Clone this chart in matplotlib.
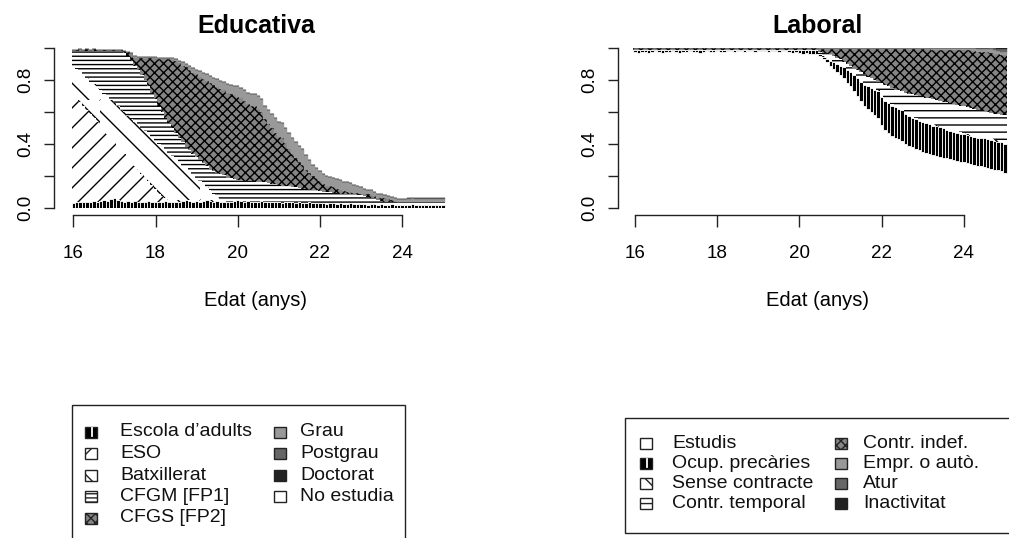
import numpy as np
import matplotlib
matplotlib.use("Agg")
import matplotlib.pyplot as plt
from matplotlib.patches import Rectangle
from matplotlib.path import Path
from matplotlib.backend_bases import GraphicsContextBase

plt.rcParams['font.family'] = ['Liberation Sans', 'DejaVu Sans']
plt.rcParams['hatch.linewidth'] = 1.0

# hatch densities (lines per inch multiplier) chosen to mimic R's density= hatching
HATCH_DENSITY = {'/': 10, '\\': 9, '-': 24, '--': 7.5, 'xx': 11}


def _get_hatch_path(self, density=6.0):
    hatch = self.get_hatch()
    if hatch is None:
        return None
    return Path.hatch(hatch, HATCH_DENSITY.get(hatch, density))


GraphicsContextBase.get_hatch_path = _get_hatch_path

# ---------------- DATA ----------------
# age in months: 16y0m ... 25y0m (monthly)
edat_mesos = np.arange(16 * 12, 25 * 12 + 1)
xticks = [16, 18, 20, 22, 24]

# Educativa (state distribution, shares per month)
escola = [0.030,0.035,0.035,0.040,0.035,0.040,0.045,0.040,0.045,0.050,0.045,0.055,
          0.060,0.050,0.045,0.040,0.045,0.040,0.045,0.040,0.035,0.040,0.045,0.040,
          0.040,0.035,0.040,0.045,0.040,0.035,0.040,0.040,0.045,0.050,0.045,0.040,
          0.045,0.040,0.045,0.050,0.045,0.040,0.045,0.040,0.040,0.035,0.040,0.045,
          0.050,0.045,0.040,0.045,0.040,0.035,0.040,0.045,0.040,0.035,0.035,0.040,
          0.035,0.030,0.035,0.040,0.035,0.030,0.035,0.030,0.030,0.035,0.030,0.030,
          0.030,0.030,0.025,0.030,0.030,0.025,0.030,0.025,0.025,0.030,0.025,0.025,
          0.025,0.025,0.020,0.025,0.025,0.020,0.025,0.020,0.020,0.025,0.020,0.020,
          0.020,0.020,0.020,0.025,0.020,0.020,0.020,0.020,0.020,0.020,0.020,0.020,0.020]
eso = [0.68,0.65,0.63,0.60,0.58,0.55,0.52,0.50,0.47,0.44,0.42,0.39,0.36,0.34,0.32,
       0.30,0.27,0.25,0.22,0.20,0.18,0.155,0.125,0.105,0.08,0.055,0.035,0.02,0.01,0.005] + [0.0] * 79
batx = [0.18,0.185,0.186,0.19,0.197,0.20,0.208,0.21,0.22,0.225,0.23,0.23,0.236,0.245,0.25,
        0.257,0.263,0.268,0.274,0.28,0.285,0.285,0.29,0.297,0.30,0.31,0.31,0.30,0.294,0.285,
        0.265,0.245,0.22,0.197,0.18,0.167,0.143,0.128,0.104,0.08,0.065,0.05,0.026,0.012,0.005] + [0.0] * 64
cfgm = [0.09,0.11,0.13,0.15,0.17,0.19,0.21,0.23,0.245,0.265,0.285,0.305,0.324,0.345,0.365,
        0.373,0.372,0.362,0.351,0.34,0.33,0.32,0.30,0.278,0.26,0.24,0.215,0.195,0.186,0.175,
        0.165,0.155,0.145,0.133,0.135,0.133,0.132,0.132,0.131,0.13,0.135,0.14,0.149,0.158,0.16,
        0.155,0.145,0.135,0.125,0.13,0.13,0.125,0.13,0.13,0.125,0.115,0.12,0.12,0.115,0.11,
        0.11,0.11,0.105,0.095,0.095,0.10,0.09,0.09,0.09,0.08,0.08,0.08,0.075,0.07,0.075,
        0.07,0.065,0.07,0.06,0.065,0.065,0.055,0.06,0.055,0.055,0.05,0.05,0.04,0.035,0.03,0.02] + [0.015] * 18
cfgs = [0.01] * 15 + [
        0.01,0.025,0.05,0.05,0.075,0.105,0.135,0.175,0.215,0.255,0.29,0.33,0.37,0.40,0.425,
        0.45,0.465,0.48,0.50,0.505,0.505,0.515,0.52,0.525,0.535,0.535,0.54,0.535,0.535,0.53,
        0.53,0.525,0.525,0.52,0.51,0.50,0.48,0.465,0.47,0.455,0.44,0.395,0.37,0.35,0.32,
        0.30,0.295,0.265,0.235,0.21,0.18,0.165,0.15,0.12,0.105,0.09,0.08,0.065,0.05,0.04,
        0.035,0.035,0.025,0.025,0.015,0.01,0.015,0.01,0.015,0.01,0.01,0.015,0.015,0.015,0.015,
        0.02,0.025,0.02,0.01,0.01] + [0.0] * 14
grau = [0.0] * 18 + [0.01] * 13 + [0.015,0.02,0.02,0.025,0.03, 0.03,0.035,0.04,0.04,0.045,
        0.045,0.05,0.05,0.055,0.055,0.06,0.06, 0.065,0.065,0.07,0.07,0.075,0.075,0.08,0.08,
        0.085,0.085,0.09,0.09,0.095,0.095,0.095, 0.10,0.10,0.10,0.10,0.10, 0.09,0.08,0.07,0.06] + \
       [0.06] * 9 + [0.055,0.05,0.045,0.04,0.035, 0.03,0.03,0.025,0.025,0.02] + [0.02] * 18
postgrau = [0.0] * 98 + [0.005] * 11
doctorat = [0.0] * 109

# Laboral
estudis = [0.975,0.97,0.975,0.975,0.97,0.975,0.98,0.975,0.97,0.975,
           0.975,0.98,0.975,0.97,0.975,0.975,0.98,0.975,0.975,0.97,
           0.975,0.98,0.975,0.975,0.98,0.975,0.975,0.98,0.98,0.975,
           0.98,0.98,0.975,0.98,0.98,0.975,0.98,0.98,0.98,0.975,
           0.98,0.98,0.975,0.98,0.98,0.975,0.97,0.975,0.97,0.965,
           0.97,0.965,0.96,0.96,
           0.95,0.93,0.91,0.89,0.87,0.85,0.83,0.81,0.78,0.76,0.73,0.70,0.67,0.64,0.62,0.60,
           0.58,0.56,0.52,0.49,0.47,0.45,0.44,0.43,0.42,0.40,0.39,0.38,0.37,0.36,0.35,0.345,
           0.34,0.33,0.325,0.32,0.315,0.31,0.305,0.30,0.295,0.29,0.285,0.28,0.275,0.27,0.265,
           0.26,0.255,0.25,0.245,0.24,0.235,0.23,0.22]
precaries = [0.015,0.02,0.015,0.015,0.02,0.015,0.01,0.015,0.02,0.015,
             0.015,0.01,0.015,0.02,0.015,0.015,0.01,0.015,0.015,0.02,
             0.015,0.01,0.015,0.015,0.01,0.015,0.015,0.01,0.01,0.015,
             0.01,0.01,0.015,0.01,0.01,0.015,0.01,0.01,0.01,0.015,
             0.01,0.01,0.015,0.01,0.01,0.015,0.02,0.015,0.02,0.025,
             0.02,0.025,0.03,0.03,
             0.01,0.015,0.02,0.03,0.04,0.05,0.06,0.07,0.08,0.09,0.10,0.11,0.12,0.13,0.14,0.15,
             0.16,0.17,0.175,0.18,0.185,0.19,0.19,0.19,0.19] + [0.185] * 12 + [0.175] * 10 + [0.18] * 8
sense = [0.0] * 54 + [0.005] * 12 + [0.01] * 43
temporal = [0.0] * 54 + [
            0.01,0.02,0.03,0.035,0.035,0.035,0.035,0.03,0.035,0.03,0.035,0.045,0.05,0.055,0.05,
            0.05,0.05,0.05,0.075,0.09,0.095,0.10,0.10,0.105,0.11,0.125,0.13,0.135,0.14,0.145,
            0.15,0.15,0.15,0.155,0.155,0.155,0.155,0.165,0.165,0.165,0.165,0.165,0.165,0.165,
            0.165,0.165,0.165,0.16,0.16,0.16,0.16,0.16,0.16,0.16,0.17]
indef = [0.01] * 54 + [
         0.02,0.025,0.03,0.035,0.045,0.055,0.065,0.08,0.095,0.11,0.125,0.135,0.145,0.16,
         0.175,0.185,0.195,0.205,0.215,0.225,0.235,0.245,0.255,0.26,0.265,0.275,0.28,0.285,
         0.29,0.295,0.30,0.305,0.31,0.31,0.315,0.32,0.325,0.33,0.335,0.34,0.345,0.35,0.355,
         0.36,0.365,0.36,0.36,0.365,0.37,0.375,0.375,0.375,0.375,0.375,0.375]
empr = [0.0] * 54 + [0.005] * 33 + [0.01] * 12 + [0.02] * 5 + [0.025,0.025,0.02,0.02,0.02]
atur = [0.0] * 100 + [0.005,0.005,0.005,0.005,0.01,0.01,0.015,0.02,0.02]
inactivitat = [0.0] * 106 + [0.005,0.005,0.005]

edu_labels = ["Escola d\u2019adults", "ESO", "Batxillerat", "CFGM [FP1]", "CFGS [FP2]",
              "Grau", "Postgrau", "Doctorat", "No estudia"]
lab_labels = ["Estudis", "Ocup. prec\u00e0ries", "Sense contracte", "Contr. temporal",
              "Contr. indef.", "Empr. o aut\u00f2.", "Atur", "Inactivitat"]

# ---------------- STYLES ----------------
DENSE = dict(facecolor='#858585', edgecolor='black', hatch='xx', linewidth=0)
BLACKBAR = dict(facecolor='black', edgecolor='white', linewidth=0.6)


def solid(c):
    return dict(facecolor=c, edgecolor=c, linewidth=0.3)


edu_styles = [BLACKBAR,
              dict(facecolor='white', edgecolor='black', hatch='/', linewidth=0),
              dict(facecolor='white', edgecolor='black', hatch='\\', linewidth=0),
              dict(facecolor='white', edgecolor='black', hatch='-', linewidth=0),
              DENSE, solid('#999999'), solid('#666666'), solid('#222222'), solid('white')]
lab_styles = [solid('white'), BLACKBAR,
              dict(facecolor='white', edgecolor='black', hatch='\\', linewidth=0),
              dict(facecolor='white', edgecolor='black', hatch='--', linewidth=0),
              DENSE, solid('#999999'), solid('#666666'), solid('#222222')]

W, H, DPI = 1009, 538, 100
fig = plt.figure(figsize=(W / DPI, H / DPI), dpi=DPI)
PXY = 41.1  # pixels per year


def px_axes(left, top, right, bottom):
    return fig.add_axes([left / W, 1 - bottom / H, (right - left) / W, (bottom - top) / H])


def stack(ax, series, styles):
    x = edat_mesos / 12.0
    bottom = np.zeros(len(x))
    for vals, st in zip(series, styles):
        v = np.asarray(vals, dtype=float)
        ax.bar(x, v, width=1 / 12, bottom=bottom, align='center', **st)
        bottom += v


def style_axes(ax):
    ax.set_ylim(0, 1)
    for s in ['top', 'right']:
        ax.spines[s].set_visible(False)
    ax.spines['left'].set_bounds(0, 1)
    ax.spines['bottom'].set_bounds(16, 24)
    ax.spines['bottom'].set_position(('outward', 5))
    for s in ['left', 'bottom']:
        ax.spines[s].set_linewidth(1.0)
        ax.spines[s].set_color('#222222')
    ax.set_xticks(xticks)
    ax.set_xticklabels([str(t) for t in xticks])
    ax.set_yticks([0, 0.2, 0.4, 0.6, 0.8, 1.0])
    ax.set_yticklabels(['0.0', '', '0.4', '', '0.8', ''])
    ax.tick_params(axis='x', length=8.5, width=1.0, color='#222222', pad=13, labelsize=13.5)
    ax.tick_params(axis='y', length=7.2, width=1.0, color='#222222', pad=7, labelsize=13.5,
                   labelrotation=90)
    for lab in ax.get_yticklabels():
        lab.set_va('center')
    ax.set_facecolor('none')


axL = px_axes(54, 48, 452, 208)
axL.set_xlim(16 - (73.3 - 54) / PXY, 16 + (452 - 73.3) / PXY)
stack(axL, [escola, eso, batx, cfgm, cfgs, grau, postgrau, doctorat], edu_styles)
style_axes(axL)

axR = px_axes(618, 48, 1009, 208)
axR.set_xlim(16 - (635 - 618) / PXY, 16 + (1009 - 635) / PXY)
stack(axR, [estudis, precaries, sense, temporal, indef, empr, atur, inactivitat], lab_styles)
style_axes(axR)


def ftext(x, y, s, **kw):
    fig.text(x / W, 1 - y / H, s, **kw)


ftext(256.7, 33, "Educativa", ha='center', va='baseline', fontsize=18, fontweight='bold')
ftext(818, 33, "Laboral", ha='center', va='baseline', fontsize=18, fontweight='bold')
ftext(256, 306.5, "Edat (anys)", ha='center', va='baseline', fontsize=14.5)
ftext(818, 306.5, "Edat (anys)", ha='center', va='baseline', fontsize=14.5)

# ---------------- LEGENDS ----------------
ov = fig.add_axes([0, 0, 1, 1])
ov.set_xlim(0, W)
ov.set_ylim(H, 0)
ov.axis('off')
ov.patch.set_visible(False)

ov.add_patch(Rectangle((71.7, 405), 405 - 71.7, 200, facecolor='none', edgecolor='#222222', lw=1.0))
ov.add_patch(Rectangle((625, 418), 500, 533 - 418, facecolor='none', edgecolor='#222222', lw=1.0))


def icon(cx, cy, st):
    w, h = 12, 11
    if st is BLACKBAR:
        ov.add_patch(Rectangle((cx - w / 2, cy - h / 2), w, h, facecolor='black', edgecolor='#222222', lw=1.0))
        ov.plot([cx + 1, cx + 1], [cy - h / 2 + 1.5, cy + h / 2 - 1.5], color='white', lw=1.3)
        return
    fc = st.get('facecolor', 'white')
    hatch = st.get('hatch', None)
    ov.add_patch(Rectangle((cx - w / 2, cy - h / 2), w, h, facecolor=fc,
                           edgecolor='#222222', hatch=hatch, lw=1.0))


edu_rows = [432, 453.5, 475, 496.5, 518]
for i, (lab, st) in enumerate(zip(edu_labels, edu_styles)):
    col, row = divmod(i, 5)
    cy = edu_rows[row]
    icon([91, 280][col], cy, st)
    ov.text([120, 300][col], cy, lab, ha='left', va='center', fontsize=14, color='#111111')

lab_rows = [443, 463, 483, 503]
for i, (lab, st) in enumerate(zip(lab_labels, lab_styles)):
    col, row = divmod(i, 4)
    cy = lab_rows[row]
    icon([646, 841][col], cy, st)
    ov.text([672, 863][col], cy, lab, ha='left', va='center', fontsize=14, color='#111111')

fig.savefig("out.png", dpi=DPI)
